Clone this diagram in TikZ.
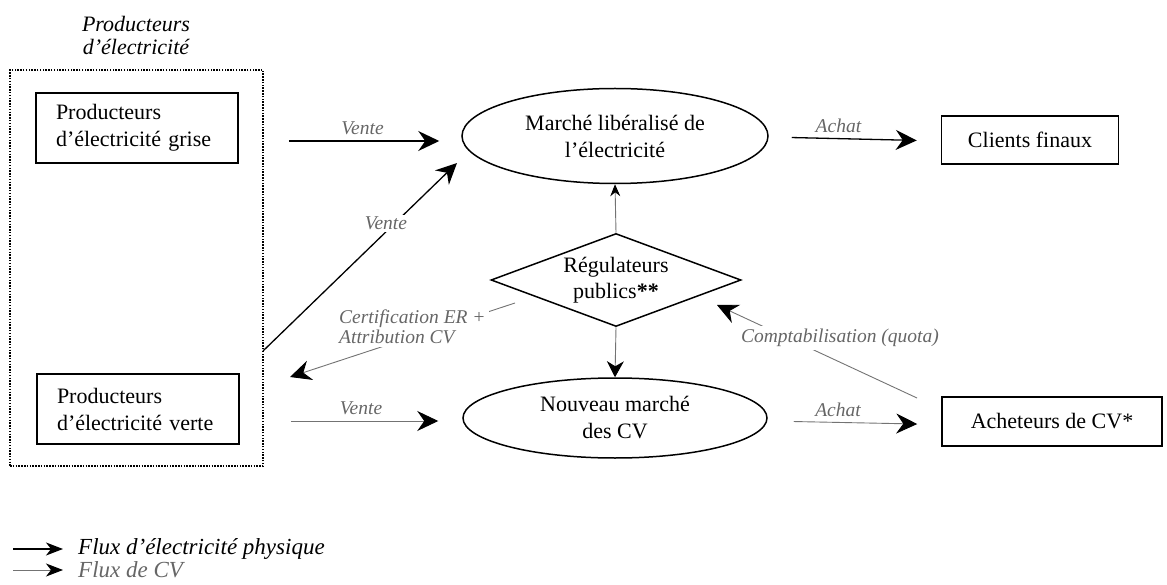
\documentclass[tikz,border=0pt]{standalone}
\usepackage{fontspec}
\setmainfont{Liberation Serif}
\usetikzlibrary{arrows.meta,shapes.geometric}
\begin{document}
\begin{tikzpicture}[x=1pt,y=-1pt,
  box/.style={draw,line width=1.5pt,inner ysep=0pt,font=\fontsize{22}{27}\selectfont},
  mkt/.style={draw,ellipse,line width=1.5pt,inner sep=0pt,align=center,font=\fontsize{22}{27}\selectfont},
  lbl/.style={font=\itshape\fontsize{19.5}{22}\selectfont,text=black!60},
  bigtip/.style={-{Stealth[length=21pt,width=20pt,inset=7pt,color=black]}},
  elec/.style={line width=1.3pt,bigtip},
  cv/.style={line width=0.9pt,draw=black!55,bigtip},
  small/.style={line width=0.9pt,draw=black!55,-{Stealth[length=12pt,width=10pt,inset=4pt,color=black]}},
  legtip/.style={-{Stealth[length=17pt,width=13pt,inset=5pt,color=black]}},
]
\useasboundingbox (0,0) rectangle (1167,585);

% title and grouping frame
\node[font=\itshape\fontsize{22}{23}\selectfont,align=center] (title) at (136,35) {Producteurs\\d’électricité};
\node[draw,line width=1.6pt,dash pattern=on 1.5pt off 1.3pt,minimum width=253pt,minimum height=396pt,inner sep=0pt] (grp) at (136.5,268) {};

% boxes
\node[box,minimum width=202pt,minimum height=70pt,text width=162pt,inner xsep=20pt,align=left] (grise) at (137,128) {Producteurs\\d’électricité grise};
\node[box,minimum width=202pt,minimum height=70pt,text width=162pt,inner xsep=20pt,align=left] (verte) at (138,409) {Producteurs\\d’électricité verte};
\node[box,minimum width=177pt,minimum height=48pt,inner xsep=0pt] (clients) at (1030,140) {Clients finaux};
\node[box,minimum width=220pt,minimum height=49pt,inner xsep=0pt] (ach) at (1052,421.5) {Acheteurs de CV*};

% markets
\node[mkt,minimum width=306pt,minimum height=95pt] (mlib) at (615,136) {Marché libéralisé de\\l’électricité};
\node[mkt,minimum width=304pt,minimum height=80pt] (nouv) at (615,418) {Nouveau marché\\des CV};

% regulators
\node[draw,diamond,line width=1.5pt,inner sep=0pt,aspect=2.69,minimum width=250pt,minimum height=93pt,align=center,font=\fontsize{22}{26}\selectfont] (dia) at (616,280) {Régulateurs\\publics\textbf{**}};

% helper coordinates for free connector ends
\coordinate (vdst) at (263,351);
\coordinate (vdtip) at (457,163);
\coordinate (certst) at (515,303);
\coordinate (certtip) at (290,377);
\coordinate (compst) at (917,398);
\coordinate (comptip) at (717,305);

% electricity flows
\draw[elec,shorten <=25pt,shorten >=22pt] ([yshift=-5pt]mlib.west -| grp.east) -- ([yshift=-5pt]mlib.west)
  node[lbl,midway,above=2pt] (l1) {Vente};
\draw[elec,shorten <=23pt,shorten >=24pt] ([yshift=-1pt]mlib.east) -- ([yshift=-1pt]clients.west)
  node[lbl,pos=0.405,above=2pt] (l2) {Achat};
\draw[elec] (vdst) -- (vdtip)
  node[lbl,pos=0.68,xshift=-9pt,fill=white,inner sep=2pt] (l3) {Vente};

% CV flows
\draw[cv,shorten <=27pt,shorten >=24pt] ([yshift=-3pt]nouv.west -| grp.east) -- ([yshift=-3pt]nouv.west)
  node[lbl,pos=0.49,above=2pt] (l4) {Vente};
\draw[cv,shorten <=26pt,shorten >=24pt] ([yshift=-3pt]nouv.east) -- ([yshift=-3pt]ach.west)
  node[lbl,pos=0.405,above=2pt] (l5) {Achat};
\draw[cv] (certst) -- (certtip);
\node[lbl,anchor=west,align=left,fill=white,inner sep=3pt,font=\itshape\fontsize{19.5}{20}\selectfont] (l6) at (336,327) {Certification ER +\\Attribution CV};
\draw[cv] (compst) -- (comptip);
\node[lbl,fill=white,inner sep=3pt] (l7) at (840,338) {Comptabilisation (quota)};
\draw[small] (dia.north) -- (mlib.south);
\draw[cv,-{Stealth[length=16pt,width=17pt,inset=5pt,color=black]}] (dia.south) -- (nouv.north);

% legend
\coordinate (lg1a) at (13,549);
\coordinate (lg1b) at (63,549);
\coordinate (lg2a) at (13,570);
\coordinate (lg2b) at (63,570);
\draw[line width=1.2pt,legtip] (lg1a) -- (lg1b);
\draw[line width=0.9pt,draw=black!55,legtip] (lg2a) -- (lg2b);
\node[anchor=west,font=\itshape\fontsize{23}{24}\selectfont,inner sep=0pt] (leg1) at (78,549) {Flux d’électricité physique};
\node[anchor=west,font=\itshape\fontsize{23}{24}\selectfont,text=black!60,inner sep=0pt] (leg2) at (78,570) {Flux de CV};
\end{tikzpicture}
\end{document}
